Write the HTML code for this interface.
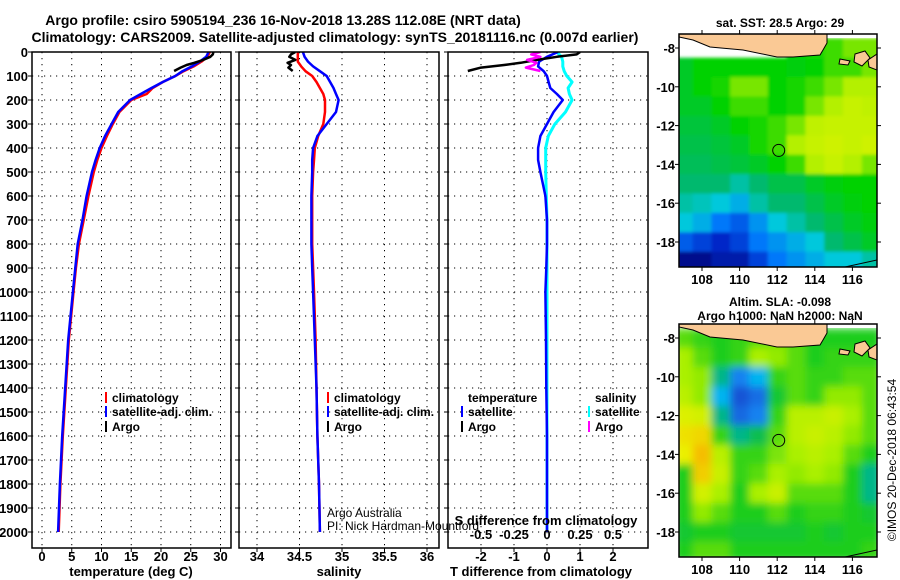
<!DOCTYPE html>
<html><head><meta charset="utf-8"><style>
body{margin:0;background:#fff;}
svg{display:block;font-family:"Liberation Sans",Arial,sans-serif;}
.b{font-weight:bold;font-size:13px;}
.t{font-weight:bold;font-size:14px;}
.g{stroke:#000;stroke-width:1;stroke-dasharray:1.2,4.8;}
</style></head><body>
<svg id="fig" width="900" height="580" viewBox="0 0 900 580">
<defs><filter id="smooth" x="0" y="0" width="1" height="1"><feGaussianBlur stdDeviation="4" edgeMode="duplicate"/></filter>
<filter id="smooth2" x="0" y="0" width="1" height="1"><feGaussianBlur stdDeviation="1.5" edgeMode="duplicate"/></filter></defs>
<text class="t" x="283" y="25" text-anchor="middle">Argo profile: csiro 5905194_236 16-Nov-2018 13.28S 112.08E (NRT data)</text>
<text class="t" x="335" y="42" text-anchor="middle">Climatology: CARS2009. Satellite-adjusted climatology: synTS_20181116.nc (0.007d earlier)</text>
<g id="layer"></g>
</svg>
<script>
// ---- profile data ----
const depths = [0,20,40,60,80,100,125,150,175,200,250,300,350,400,450,500,600,700,800,900,1000,1200,1400,1600,1800,2000];
const tempClim = [28.2,27.8,26.8,25.5,23.8,22.4,20.3,18.6,17.6,15.0,13.0,11.9,10.9,10.0,9.3,8.7,7.8,7.0,6.2,5.7,5.3,4.5,4.0,3.5,3.1,2.8];
const tempSat  = [28.0,27.6,26.5,25.2,23.6,22.4,20.3,18.4,16.6,14.8,12.8,11.7,10.6,9.7,9.0,8.4,7.5,6.8,6.0,5.6,5.2,4.4,3.9,3.4,3.0,2.7];
const argoDepths = [0,10,20,33,45,54,65,79];
const tempArgo = [28.8,28.7,28.3,27.1,25.6,24.3,23.3,22.2];
const salArgo  = [34.45,34.40,34.38,34.45,34.36,34.40,34.37,34.42];
const salClim = [34.48,34.48,34.48,34.52,34.57,34.65,34.70,34.74,34.78,34.80,34.80,34.78,34.72,34.68,34.67,34.66,34.65,34.65,34.65,34.66,34.67,34.69,34.70,34.71,34.73,34.74];
const salSat  = [34.54,34.56,34.60,34.66,34.74,34.82,34.86,34.90,34.93,34.96,34.93,34.82,34.71,34.66,34.65,34.65,34.64,34.64,34.64,34.65,34.66,34.68,34.70,34.71,34.73,34.74];
const tDiffSat = [0.33,0.0,-0.24,-0.27,-0.1,0.0,0.05,0.1,0.3,0.48,0.2,0.0,-0.2,-0.27,-0.27,-0.2,-0.05,0.0,0.0,-0.02,-0.05,-0.03,-0.02,0.0,0.0,0.0];
const sDiffSat = [0.075,0.11,0.12,0.12,0.13,0.15,0.19,0.16,0.17,0.19,0.14,0.06,0.01,-0.01,-0.01,-0.01,-0.005,0.0,0.0,0.0,0.0,0.0,0.0,0.0,0.0,0.0];
const tDiffArgo = [1.0,0.9,0.3,-0.3,-0.8,-1.3,-2.0,-2.4];
const sDiffArgo = [-0.05,-0.12,-0.05,-0.15,-0.08,-0.10,-0.16,-0.05];
const tempTicks = [0,5,10,15,20,25,30];
const salTicks = [34,34.5,35,35.5,36];
const salTickLabels = ["34","34.5","35","35.5","36"];
const tdTicks = [-2,-1,0,1,2];
const sdTicks = [-0.5,-0.25,0,0.25,0.5];
const sdTickLabels = ["-0.5","-0.25","0","0.25","0.5"];
const depthTicks = [0,100,200,300,400,500,600,700,800,900,1000,1100,1200,1300,1400,1500,1600,1700,1800,1900,2000];
// ---- map data (1-degree cells, lon 107..117, lat -8..-19), normalized colour index ----
const mapLons = [107,108,109,110,111,112,113,114,115,116,117];
const mapLats = [-8,-9,-10,-11,-12,-13,-14,-15,-16,-17,-18,-19];
const sstGrid = [
[null,null,null,null,null,null,0.7,0.72,0.75,0.8,0.8],
[0.65,0.7,0.7,0.7,0.7,0.7,0.68,0.7,0.75,0.75,0.8],
[0.65,0.7,0.72,0.8,0.8,0.7,0.72,0.75,0.8,0.85,0.85],
[0.65,0.65,0.7,0.75,0.75,0.7,0.72,0.8,0.85,0.9,0.88],
[0.62,0.62,0.65,0.7,0.72,0.75,0.8,0.88,0.9,0.9,0.9],
[0.6,0.6,0.62,0.65,0.72,0.75,0.85,0.9,0.92,0.9,0.92],
[0.58,0.58,0.6,0.62,0.65,0.7,0.75,0.85,0.9,0.85,0.8],
[0.55,0.55,0.55,0.5,0.55,0.6,0.6,0.65,0.68,0.7,0.7],
[0.5,0.48,0.45,0.4,0.5,0.55,0.55,0.6,0.65,0.68,0.7],
[0.45,0.4,0.3,0.25,0.35,0.45,0.5,0.55,0.6,0.65,0.68],
[0.25,0.2,0.15,0.2,0.3,0.35,0.4,0.45,0.55,0.6,0.65],
[0.05,0.05,0.1,0.1,0.2,0.3,0.35,0.4,0.45,0.45,0.5]];
const slaGrid = [
[0.65,0.62,0.6,0.62,0.65,0.68,0.65,0.6,0.6,0.6,0.6],
[0.72,0.65,0.6,0.62,0.72,0.7,0.65,0.6,0.62,0.62,0.62],
[0.72,0.7,0.5,0.3,0.4,0.62,0.65,0.62,0.62,0.65,0.65],
[0.75,0.7,0.4,0.12,0.22,0.58,0.65,0.62,0.7,0.7,0.65],
[0.82,0.8,0.5,0.2,0.3,0.62,0.75,0.75,0.78,0.72,0.65],
[0.88,0.9,0.62,0.5,0.55,0.65,0.75,0.78,0.75,0.7,0.65],
[0.85,0.95,0.75,0.62,0.62,0.68,0.72,0.75,0.72,0.65,0.6],
[0.6,0.92,0.78,0.62,0.65,0.72,0.7,0.72,0.7,0.6,0.5],
[0.6,0.8,0.72,0.6,0.72,0.78,0.65,0.65,0.65,0.6,0.5],
[0.6,0.7,0.65,0.6,0.6,0.65,0.6,0.62,0.62,0.6,0.58],
[0.58,0.6,0.6,0.58,0.58,0.58,0.58,0.6,0.58,0.6,0.6],
[0.6,0.65,0.65,0.6,0.6,0.6,0.6,0.6,0.6,0.6,0.62]];
const argoLon = 112.08, argoLat = -13.28;
const lonTicks = [108,110,112,114,116];
const latTicks = [-8,-10,-12,-14,-16,-18];

const NS="http://www.w3.org/2000/svg";
const L=document.getElementById('layer');
function mk(tag,attrs,parent){const e=document.createElementNS(NS,tag);for(const k in attrs)e.setAttribute(k,attrs[k]);(parent||L).appendChild(e);return e;}
function txt(x,y,s,cls,anchor,parent){const e=mk('text',{x:x,y:y,'text-anchor':anchor||'middle'},parent);if(cls)e.setAttribute('class',cls);e.textContent=s;return e;}

const yD = d => 52 + d*0.24;
const xTemp = t => 42 + t*5.95;
const xSal = s => 257 + (s-34)*85;
const xTd = t => 547 + t*33;
const xSd = s => 547 + s*132;

const panels=[{x0:32,x1:231,name:'temperature-panel'},{x0:239,x1:439,name:'salinity-panel'},{x0:448,x1:648,name:'difference-panel'}];
const Y0=52,Y1=548;
panels.forEach((p,i)=>{
  const cp=mk('clipPath',{id:'cp'+i});mk('rect',{x:p.x0,y:Y0,width:p.x1-p.x0,height:Y1-Y0},cp);
});
function grid(i,xs){
  const p=panels[i];
  xs.forEach(x=>{const l=mk('line',{x1:x,x2:x,y1:Y0,y2:Y1,class:'g'});
    
    });
  depthTicks.forEach(d=>{const y=yD(d);const l=mk('line',{x1:p.x0,x2:p.x1,y1:y,y2:y,class:'g'});
    
    
    mk('line',{x1:p.x0,x2:p.x0-4,y1:y,y2:y,stroke:'#000'});
  });
}
grid(0,tempTicks.map(xTemp));grid(1,salTicks.map(xSal));grid(2,tdTicks.map(xTd));
function line(xs,ys,color,w,name,clip){
  const pts=xs.map((x,k)=>x.toFixed(1)+','+ys[k].toFixed(1)).join(' ');
  const e=mk('polyline',{points:pts,fill:'none',stroke:color,'stroke-width':w,'clip-path':'url(#cp'+clip+')','stroke-linejoin':'round'});
  
  
}
line(tempClim.map(xTemp),depths.map(yD),'#f00',2.5,'temp-climatology-line',0);
line(tempSat.map(xTemp),depths.map(yD),'#00f',2.5,'temp-satellite-line',0);
line(tempArgo.map(xTemp),argoDepths.map(yD),'#000',2.5,'temp-argo-line',0);
line(salClim.map(xSal),depths.map(yD),'#f00',2.5,'sal-climatology-line',1);
line(salSat.map(xSal),depths.map(yD),'#00f',2.5,'sal-satellite-line',1);
line(salArgo.map(xSal),argoDepths.map(yD),'#000',2.5,'sal-argo-line',1);
line(sDiffSat.map(xSd),depths.map(yD),'#0ff',3,'sdiff-satellite-line',2);
line(tDiffSat.map(xTd),depths.map(yD),'#00f',2.5,'tdiff-satellite-line',2);
line(tDiffArgo.map(xTd),argoDepths.map(yD),'#000',2.5,'tdiff-argo-line',2);
line(sDiffArgo.map(xSd),argoDepths.map(yD),'#f0f',2.5,'sdiff-argo-line',2);
panels.forEach(p=>{const r=mk('rect',{x:p.x0,y:Y0,width:p.x1-p.x0,height:Y1-Y0,fill:'none',stroke:'#000','stroke-width':1.5});
  
  });
depthTicks.forEach(d=>{const t=txt(28,yD(d)+5,String(d),'b','end');
  
  });
function xlabels(ticks,labels,f,y){ticks.forEach((v,k)=>{const x=f(v);mk('line',{x1:x,x2:x,y1:Y1,y2:Y1+4,stroke:'#000'});
  const t=txt(x,y,labels[k],'b');
  
  });}
xlabels(tempTicks,tempTicks.map(String),xTemp,561);
xlabels(salTicks,salTickLabels,xSal,561);
xlabels(tdTicks,tdTicks.map(String),xTd,561);
sdTicks.forEach((v,k)=>{const t=txt(xSd(v),539,sdTickLabels[k],'b');
  
  });
[['temperature (deg C)',131],['salinity',339],['T difference from climatology',541]].forEach(a=>{const t=txt(a[1],576,a[0],'b');
  
  });
const sdt=txt(546,525,'S difference from climatology','b');


function leg(x,y,color,label){ if(color){mk('line',{x1:x,x2:x,y1:y-10,y2:y+1,stroke:color,'stroke-width':2});}
  const t=txt(x+6,y,label,'b','start');t.style.fontSize='12px';
  
  }
leg(106,402,'#f00','climatology');leg(106,416,'#00f','satellite-adj. clim.');leg(106,431,'#000','Argo');
leg(328,402,'#f00','climatology');leg(328,416,'#00f','satellite-adj. clim.');leg(328,431,'#000','Argo');
leg(462,402,null,'temperature');leg(462,416,'#00f','satellite');leg(462,431,'#000','Argo');
leg(589,402,null,'salinity');leg(589,416,'#0ff','satellite');leg(589,431,'#f0f','Argo');
[['Argo Australia',517],['PI: Nick Hardman-Mountford',530]].forEach(a=>{const t=txt(327,a[1],a[0],null,'start');t.style.fontSize='12px';
  
  });

// ---- maps ----
function cmapSST(v){const s=[[0,[0,0,110]],[0.15,[0,40,200]],[0.3,[0,120,250]],[0.45,[0,200,220]],[0.55,[0,185,110]],[0.7,[0,210,0]],[0.85,[180,240,0]],[1,[235,245,0]]];return interp(s,v);}
function cmapSLA(v){const s=[[0.1,[20,80,210]],[0.3,[20,130,240]],[0.42,[0,190,240]],[0.52,[0,180,110]],[0.6,[30,205,30]],[0.72,[170,240,0]],[0.85,[235,240,0]],[0.95,[245,190,0]]];return interp(s,v);}
function interp(s,v){if(v<=s[0][0])return 'rgb('+s[0][1]+')';for(let i=1;i<s.length;i++){if(v<=s[i][0]){const a=s[i-1],b=s[i],f=(v-a[0])/(b[0]-a[0]);return 'rgb('+a[1].map((c,k)=>Math.round(c+(b[1][k]-c)*f)).join(',')+')';}}return 'rgb('+s[s.length-1][1]+')';}
const MX0=679,MX1=877,MW=MX1-MX0;
const lonX=l=>702+(l-108)*18.8;
function drawMap(grid,cmap,top,name,id,filt){
  const bot=top+233;const latY=la=>top+14+(-8-la)*19.4;
  const cp=mk('clipPath',{id:id});mk('rect',{x:MX0,y:top,width:MW,height:bot-top},cp);
  const outer=mk('g',{'clip-path':'url(#'+id+')'});
  mk('rect',{x:MX0,y:top,width:MW,height:bot-top,fill:'#fff'},outer);
  const g=mk('g',{filter:'url(#'+filt+')'},outer);
  grid.forEach((row,r)=>row.forEach((v,c)=>{ if(v===null)return;
    const x=lonX(mapLons[c]-0.5),y=latY(mapLats[r]+0.5);
    const e=mk('rect',{x:x.toFixed(1),y:y.toFixed(1),width:19.3,height:19.9,fill:cmap(v)},g);
    
    }));
  const land=mk('path',{d:`M${MX0} ${top} L${MX0} ${top+3} L693 ${top+6} L710 ${top+13} L743 ${top+16} L777 ${top+23} L793 ${top+23} L820 ${top+21} L823 ${top+16} L827 ${top+9} L827 ${top} Z M855 ${top+20} L865 ${top+17} L870 ${top+24} L862 ${top+32} L854 ${top+28} Z M868 ${top+26} L877 ${top+20} L877 ${top+36} L869 ${top+33} Z M840 ${top+25} L850 ${top+27} L848 ${top+31} L839 ${top+30} Z`,fill:'#fac995',stroke:'#000','stroke-width':1},outer);
  
  
  mk('path',{d:`M845 ${bot} L877 ${bot-7}`,stroke:'#000',fill:'none'},outer);
  const c=mk('circle',{cx:lonX(argoLon),cy:latY(argoLat),r:6,fill:'none',stroke:'#000','stroke-width':1});
  
  
  const fr=mk('rect',{x:MX0,y:top,width:MW,height:bot-top,fill:'none',stroke:'#000','stroke-width':1.5});
  
  
  latTicks.forEach(la=>{const y=latY(la);mk('line',{x1:MX0-4,x2:MX0,y1:y,y2:y,stroke:'#000'});mk('line',{x1:MX1,x2:MX1+4,y1:y,y2:y,stroke:'#000'});
    const t=txt(675,y+5,String(la),'b','end');
    
    });
  lonTicks.forEach(l=>{const x=lonX(l);mk('line',{x1:x,x2:x,y1:top-4,y2:top,stroke:'#000'});mk('line',{x1:x,x2:x,y1:bot,y2:bot+4,stroke:'#000'});
    const t=txt(x,bot+17,String(l),'b');
    
    });
}
drawMap(sstGrid,cmapSST,34,'sst-map','mc1','smooth2');
drawMap(slaGrid,cmapSLA,324,'sla-map','mc2','smooth');
[['sat. SST: 28.5 Argo: 29',27],['Altim. SLA: -0.098',306],['Argo h1000: NaN h2000: NaN',320]].forEach(a=>{const t=txt(780,a[1],a[0],'b');t.style.fontSize='12px';
  
  });
const ts=txt(0,0,'©IMOS 20-Dec-2018 06:43:54',null);ts.style.fontSize='12px';
ts.setAttribute('transform','translate(896,460) rotate(-90)');


</script>
</body></html>
